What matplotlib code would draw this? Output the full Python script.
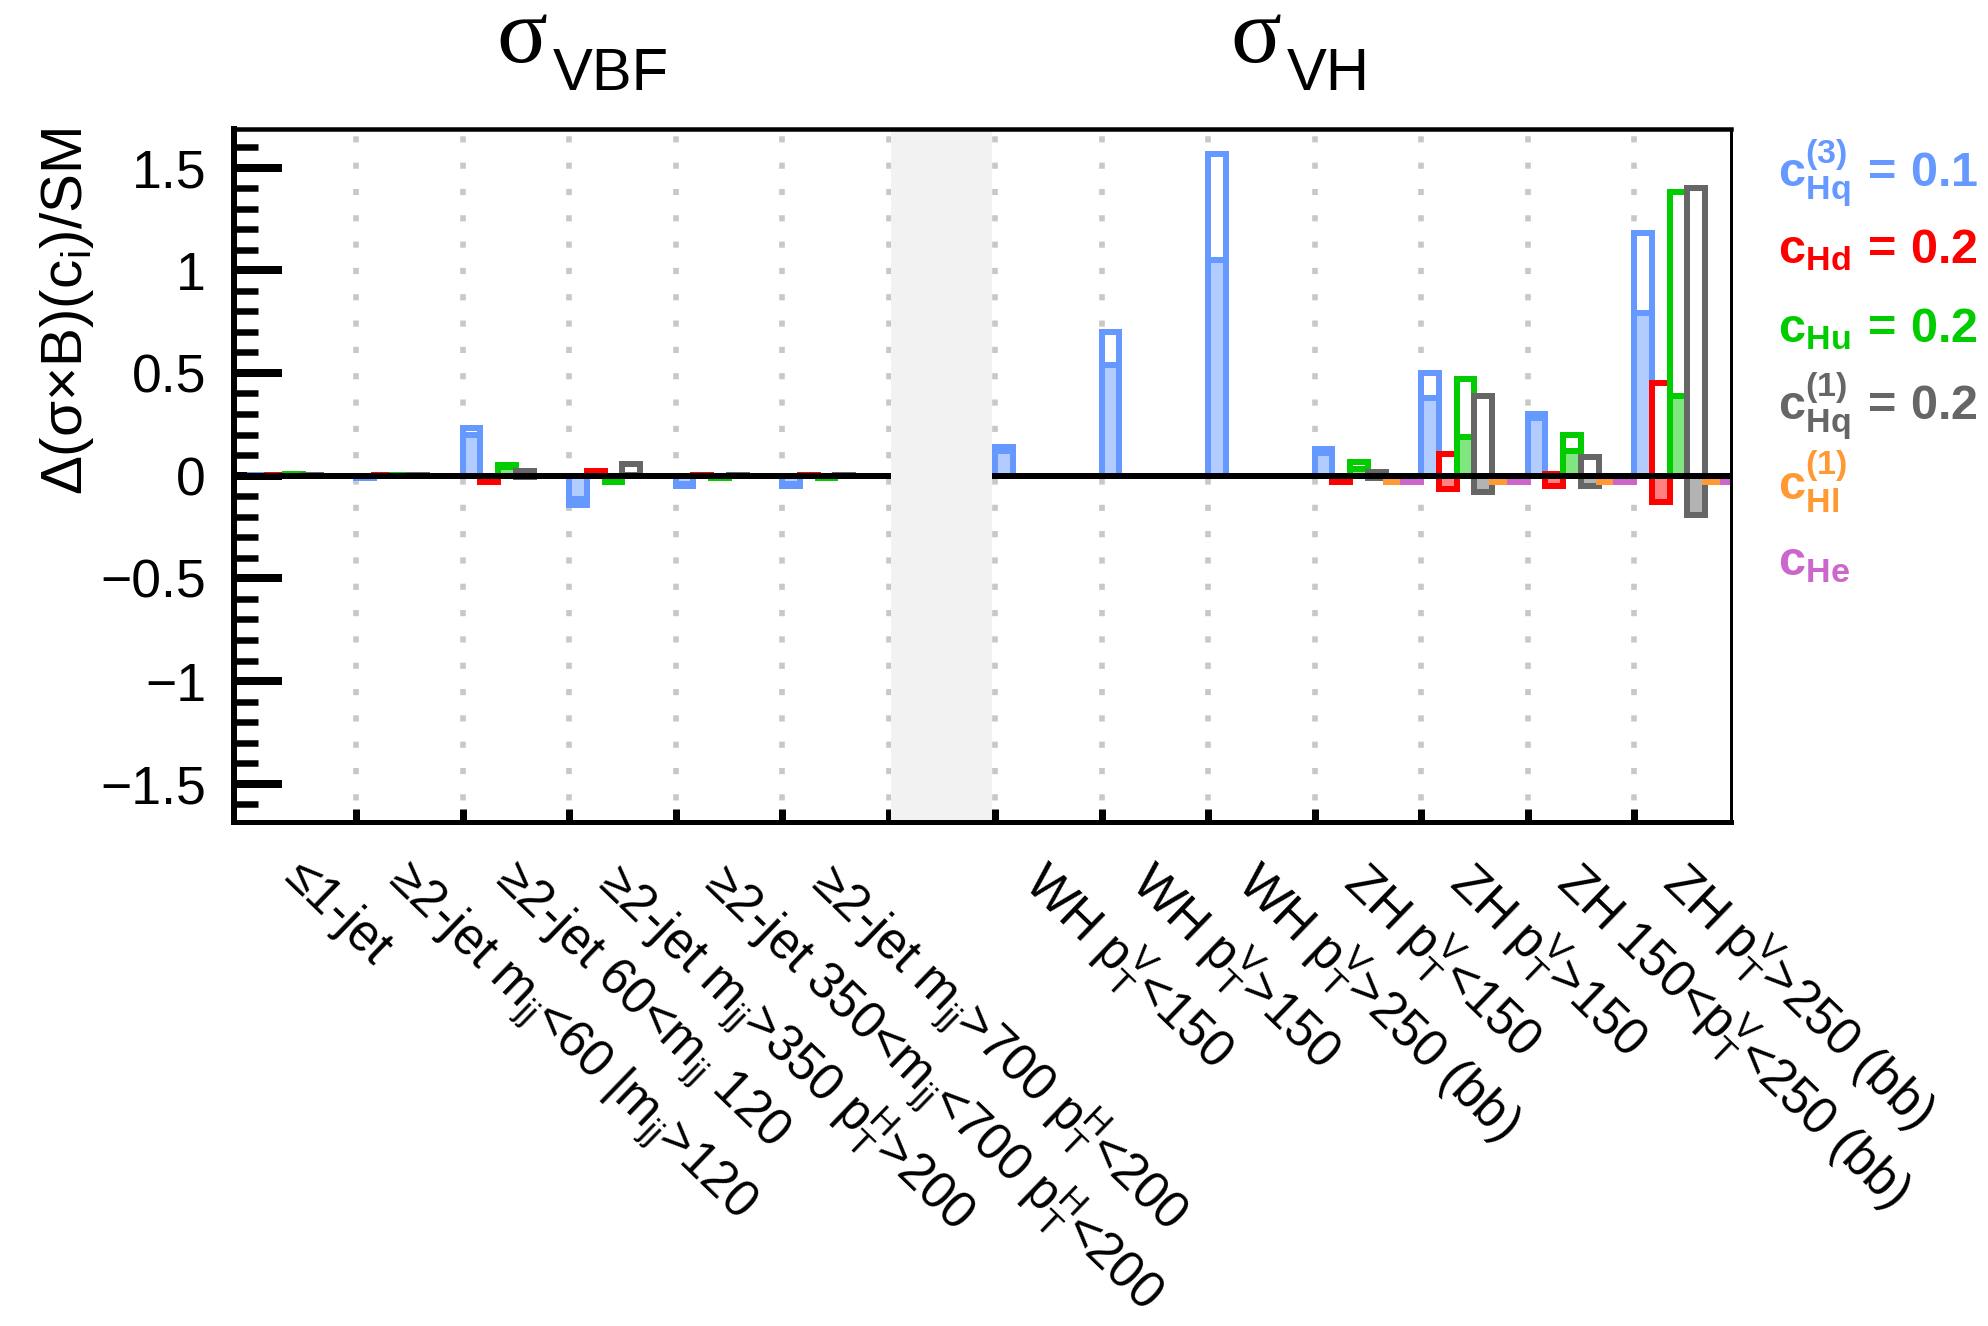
import matplotlib
matplotlib.use("Agg")
import matplotlib.pyplot as plt
import matplotlib.transforms as mtransforms
import numpy as np

plt.rcParams['font.family'] = ['Liberation Sans', 'DejaVu Sans']
plt.rcParams['mathtext.fontset'] = 'custom'
plt.rcParams['mathtext.rm'] = 'Liberation Sans'
plt.rcParams['mathtext.it'] = 'Liberation Sans:italic'
plt.rcParams['mathtext.bf'] = 'Liberation Sans:bold'
plt.rcParams['axes.unicode_minus'] = True

# ---------------------------------------------------------------- categories
vbf_labels = [
    "≤1-jet",
    r"≥2-jet m$_{\mathrm{jj}}$<60 |m$_{\mathrm{jj}}$>120",
    r"≥2-jet 60<m$_{\mathrm{jj}}$ 120",
    r"≥2-jet m$_{\mathrm{jj}}$>350 p$_{\mathrm{T}}^{\mathrm{H}}$>200",
    r"≥2-jet 350<m$_{\mathrm{jj}}$<700 p$_{\mathrm{T}}^{\mathrm{H}}$<200",
    r"≥2-jet m$_{\mathrm{jj}}$>700 p$_{\mathrm{T}}^{\mathrm{H}}$<200",
]
vh_labels = [
    r"WH p$_{\mathrm{T}}^{\mathrm{V}}$<150",
    r"WH p$_{\mathrm{T}}^{\mathrm{V}}$>150",
    r"WH p$_{\mathrm{T}}^{\mathrm{V}}$>250 (bb)",
    r"ZH p$_{\mathrm{T}}^{\mathrm{V}}$<150",
    r"ZH p$_{\mathrm{T}}^{\mathrm{V}}$>150",
    r"ZH 150<p$_{\mathrm{T}}^{\mathrm{V}}$<250 (bb)",
    r"ZH p$_{\mathrm{T}}^{\mathrm{V}}$>250 (bb)",
]

# Wilson coefficients, their benchmark values and colours
coef_names = [r"c^{(3)}_{Hq}", r"c_{Hd}", r"c_{Hu}", r"c^{(1)}_{Hq}", r"c^{(1)}_{Hl}", r"c_{He}"]
coef_values = ["0.1", "0.2", "0.2", "0.2", None, None]
line_colors = ["#6699ff", "#ff0000", "#00cc00", "#666666", "#ff9933", "#cc66cc"]
fill_colors = ["#b3ccff", "#ff8080", "#80e680", "#b3b3b3", "#ffcc99", "#e6b3e6"]

# ------------------------------------------------ Δ(σ×B)/SM, linear+quadratic
vbf_total = [
    [0.005, -0.010, 0.230, -0.145, -0.050, -0.050],   # cHq3
    [0.003, 0.004, -0.030, 0.025, 0.003, 0.002],      # cHd
    [0.006, 0.004, 0.050, -0.030, -0.010, -0.010],    # cHu
    [0.002, 0.004, 0.025, 0.055, 0.002, 0.004],       # cHq1
    [0.0, 0.0, 0.0, 0.0, 0.0, 0.0],                   # cHl1
    [0.0, 0.0, 0.0, 0.0, 0.0, 0.0],                   # cHe
]
# linear terms only
vbf_linear = [
    [0.004, -0.008, 0.200, -0.115, -0.040, -0.040],
    [0.003, 0.004, -0.030, 0.020, 0.003, 0.002],
    [0.005, 0.003, 0.040, -0.020, -0.008, -0.008],
    [0.001, 0.002, -0.005, 0.005, 0.001, 0.002],
    [0.0, 0.0, 0.0, 0.0, 0.0, 0.0],
    [0.0, 0.0, 0.0, 0.0, 0.0, 0.0],
]
vh_total = [
    [0.14, 0.70, 1.565, 0.13, 0.50, 0.30, 1.18],
    [0.0, 0.0, 0.0, -0.03, 0.107, 0.01, 0.45],
    [0.0, 0.0, 0.0, 0.065, 0.47, 0.20, 1.38],
    [0.0, 0.0, 0.0, 0.02, 0.39, 0.09, 1.40],
    [0.0, 0.0, 0.0, -0.03, -0.03, -0.03, -0.03],
    [0.0, 0.0, 0.0, -0.03, -0.03, -0.03, -0.03],
]
vh_linear = [
    [0.12, 0.54, 1.05, 0.11, 0.38, 0.28, 0.79],
    [0.0, 0.0, 0.0, -0.03, -0.065, -0.05, -0.13],
    [0.0, 0.0, 0.0, 0.03, 0.19, 0.12, 0.39],
    [0.0, 0.0, 0.0, -0.01, -0.08, -0.05, -0.19],
    [0.0, 0.0, 0.0, -0.03, -0.03, -0.03, -0.03],
    [0.0, 0.0, 0.0, -0.03, -0.03, -0.03, -0.03],
]

yticks = [-1.5, -1.0, -0.5, 0.0, 0.5, 1.0, 1.5]
ytick_labels = ["\u22121.5", "\u22121", "\u22120.5", "0", "0.5", "1", "1.5"]

# ------------------------------------------------------------------ layout
W, H = 1988, 1326
DPI = 100
fig = plt.figure(figsize=(W / DPI, H / DPI), dpi=DPI)
PX = 72.0 / DPI  # points per pixel

ax_l, ax_r, ax_t, ax_b = 234, 1731, 128.5, 822
ax = fig.add_axes([ax_l / W, 1 - ax_b / H, (ax_r - ax_l) / W, (ax_b - ax_t) / H])

n_vbf = len(vbf_labels)
gap = n_vbf                      # empty separator bin between the two groups
vh_start = n_vbf + 1
n_bins = vh_start + len(vh_labels)
ax.set_xlim(-0.146, n_bins - 0.09)
ax.set_ylim(-1.686, 1.69)

n_coef = len(coef_names)
sub_w = 1.0 / n_coef
bar_lw = 6 * PX

# dotted vertical separators
dot_lw = 5.6 * PX
for xb in range(1, n_bins):
    ax.plot([xb, xb], [1.69, -1.686], color="#c8c8c8", lw=dot_lw,
            linestyle=(3.4, (1.1, 3.6)), solid_capstyle="butt",
            dash_capstyle="butt", zorder=1)


def draw_group(first_bin, totals, linears):
    for c in range(n_coef):
        xs = first_bin + np.arange(len(totals[c])) + c * sub_w
        tot = np.array(totals[c])
        lin = np.array(linears[c])
        mt = tot != 0
        ml = lin != 0
        ax.bar(xs[mt], tot[mt], width=sub_w, align="edge", bottom=0,
               facecolor="none", edgecolor=line_colors[c], linewidth=bar_lw,
               zorder=2 + 0.1 * c)
        ax.bar(xs[ml], lin[ml], width=sub_w, align="edge", bottom=0,
               facecolor=fill_colors[c], edgecolor=line_colors[c],
               linewidth=bar_lw, zorder=2.05 + 0.1 * c)


draw_group(0, vbf_total, vbf_linear)
draw_group(vh_start, vh_total, vh_linear)

ax.axhline(0, color="black", lw=6 * PX, zorder=3)
ax.axvspan(gap + 0.025, gap + 0.972, color="#f2f2f2", lw=0, zorder=4)

# axes frame and ticks
for side, lw in (("left", 6), ("bottom", 5), ("top", 4.5), ("right", 3)):
    ax.spines[side].set_linewidth(lw * PX)
    ax.spines[side].set_zorder(6)

ax.set_xticks(np.arange(1, n_bins))
ax.tick_params(axis="x", which="major", direction="in", length=13 * PX,
               width=7 * PX, labelbottom=False, top=False)
ax.set_yticks(yticks)
ax.set_yticklabels(ytick_labels)
ax.set_yticks(np.arange(-1.6, 1.65, 0.1), minor=True)
ax.tick_params(axis="y", which="major", direction="in", length=48 * PX,
               width=8 * PX, labelsize=38.5, pad=28 * PX, right=False)
ax.tick_params(axis="y", which="minor", direction="in", length=24 * PX,
               width=6.5 * PX, right=False)
ax.tick_params(axis="x", which="minor", bottom=False, top=False)

# bin labels, hanging diagonally below the axis
lab_trans = mtransforms.blended_transform_factory(ax.transData, ax.transAxes)
lab_y = -30.0 / (ax_b - ax_t)
all_labels = [(i, t) for i, t in enumerate(vbf_labels)] + \
             [(vh_start + i, t) for i, t in enumerate(vh_labels)]
for xb, txt in all_labels:
    ax.text(xb + 0.5 + 0.05, lab_y, txt, transform=lab_trans, rotation=-44,
            rotation_mode="anchor", ha="left", va="top", fontsize=36.5,
            clip_on=False)


def fig_text(px, py, s, **kw):
    return fig.text(px / W, 1 - py / H, s, **kw)


# y-axis title
fig_text(82, 128, r"Δ(σ×B)(c$_{\mathrm{i}}$)/SM", rotation=90,
         rotation_mode="anchor", ha="right", va="baseline", fontsize=42)

# group headers
for sx, name in ((496, "VBF"), (1230, "VH")):
    fig_text(sx, 62, "σ", family=["Liberation Serif", "DejaVu Serif"],
             fontsize=68, ha="left", va="baseline")
    fig_text(sx + 57, 90, name, fontsize=43, ha="left", va="baseline")

# coefficient key on the right
key_baselines = [187, 263, 342, 420, 500, 575]
for c in range(n_coef):
    s = coef_names[c]
    if coef_values[c] is not None:
        s += r"\,=\," + coef_values[c]
    fig_text(1778, key_baselines[c], r"$\mathbf{" + s + "}$",
             color=line_colors[c], fontsize=35, ha="left", va="baseline")

fig.savefig("out.png", dpi=DPI)
